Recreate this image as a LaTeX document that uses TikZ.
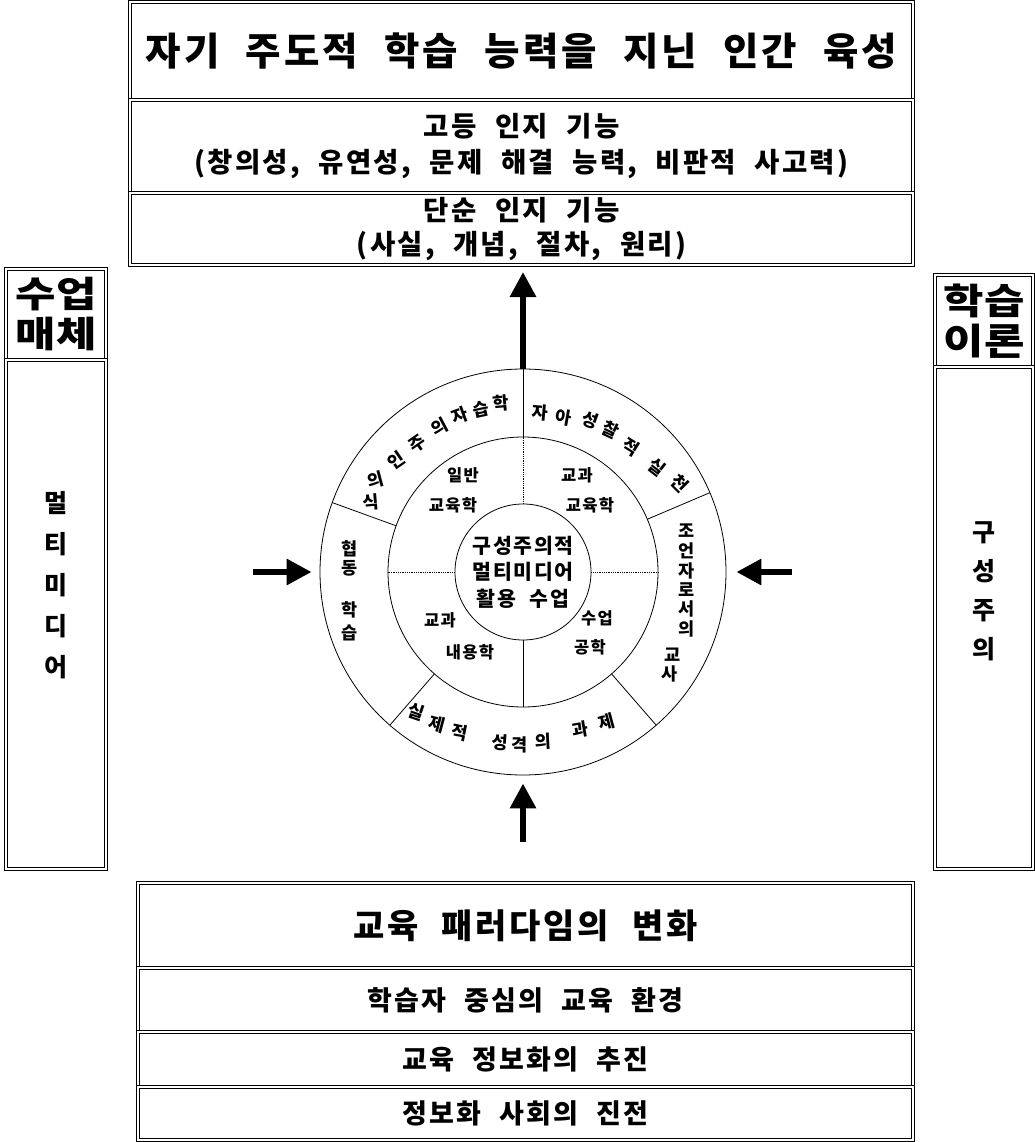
\documentclass[tikz,border=0pt]{standalone}
\usepackage{fontspec}
\setmainfont{Noto Sans CJK KR}[LetterSpace=8,WordSpace=2.2]
\newfontfamily\krwide{Noto Sans CJK KR}[FakeStretch=1.22,LetterSpace=2]
\usetikzlibrary{arrows.meta,calc}
\newcommand{\myfs}[2]{\fontsize{#1}{#2}\selectfont}
\tikzset{
  box/.style={draw, double, double distance=2pt, line width=0.9pt, inner sep=0pt, align=center},
  ring/.style={draw, line width=0.8pt, inner sep=0pt},
  divider/.style={line width=0.8pt},
  dotdiv/.style={line width=0.8pt, densely dotted},
  bigarrow/.style={line width=6pt, -{Triangle[length=25pt,width=25pt]}},
  rc/.style={font=\myfs{17.5}{17.5}\bfseries, inner sep=0pt},
  midlabel/.style={font=\myfs{16.5}{16.5}\bfseries, inner sep=0pt},
}
\begin{document}
\begin{tikzpicture}[x=1pt,y=-1pt]
\fill[white] (0,0) rectangle (1034,1142);
\useasboundingbox (0,0) rectangle (1034,1142);

% ---- top stack ----
\node[box, minimum width=783pt, minimum height=98pt, font=\myfs{38.5}{40}\bfseries] (goal) at (521.5,51) {자기 주도적 학습 능력을 지닌 인간 육성};
\node[box, minimum width=783pt, minimum height=93pt, font=\myfs{27.5}{36}\bfseries] (high) at (521.5,146.5) {고등 인지 기능\\(창의성, 유연성, 문제 해결 능력, 비판적 사고력)};
\node[box, minimum width=783pt, minimum height=72pt, font=\myfs{27.5}{34}\bfseries] (low) at (521.5,229) {단순 인지 기능\\(사실, 개념, 절차, 원리)};

% ---- left column ----
\node[box, minimum width=100pt, minimum height=91pt, font=\krwide\myfs{36}{40}\bfseries] (lhead) at (56,314.5) {수업\\매체};
\node[box, minimum width=100pt, minimum height=509pt] (lbody) at (56,614.5) {};
\node[font=\myfs{25}{41}\bfseries, align=center, inner sep=0pt] (ltext) at (56,585) {멀\\티\\미\\디\\어};

% ---- right column ----
\node[box, minimum width=98pt, minimum height=92pt, font=\krwide\myfs{36}{40}\bfseries] (rhead) at (984,321) {학습\\이론};
\node[box, minimum width=98pt, minimum height=502pt] (rbody) at (984,618) {};
\node[font=\myfs{25}{39}\bfseries, align=center, inner sep=0pt] (rtext) at (984,591) {구\\성\\주\\의};

% ---- bottom stack ----
\node[box, minimum width=775pt, minimum height=85pt, font=\myfs{34}{36}\bfseries] (para) at (525.5,925.5) {교육 패러다임의 변화};
\node[box, minimum width=775pt, minimum height=64pt, font=\myfs{27}{30}\bfseries] (learner) at (525.5,1000) {학습자 중심의 교육 환경};
\node[box, minimum width=775pt, minimum height=55pt, font=\myfs{27}{30}\bfseries] (infoed) at (525.5,1059.5) {교육 정보화의 추진};
\node[box, minimum width=775pt, minimum height=53pt, font=\myfs{27}{30}\bfseries] (infosoc) at (525.5,1113.5) {정보화 사회의 진전};

% ---- circle ----
\coordinate (ctr) at (523,572);
\node[circle, ring, minimum size=406pt] (outer) at (ctr) {};
\node[circle, ring, minimum size=270pt] (middle) at (ctr) {};
\node[circle, ring, minimum size=136pt, align=center, font=\myfs{20.5}{26.5}\bfseries] (core) at (ctr) {구성주의적\\멀티미디어\\활용 수업};

% outer ring dividers
\foreach \ang in {90,160,23,-49,-131}
  \draw[divider] ($(ctr)+(\ang:135pt)$) -- ($(ctr)+(\ang:203pt)$);
% middle ring dividers
\draw[dotdiv] (core.west) -- (middle.west);
\draw[dotdiv] (core.east) -- (middle.east);
\draw[dotdiv] (core.north) -- (middle.north);
\draw[divider] (core.south) -- (middle.south);

% middle ring labels
\node[midlabel] (m1a) at (463,475) {일반};
\node[midlabel] (m1b) at (453,505) {교육학};
\node[midlabel] (m2a) at (577,475) {교과};
\node[midlabel] (m2b) at (590,505) {교육학};
\node[midlabel] (m3a) at (440,620) {교과};
\node[midlabel] (m3b) at (470,652) {내용학};
\node[midlabel] (m4a) at (597,618) {수업};
\node[midlabel] (m4b) at (590,647) {공학};

% outer ring: top-left
\foreach \t/\a/\r/\rot [count=\i] in {학/97.5/170/5, 습/104.5/168/12, 자/112/169/20, 의/120/167/28, 주/129.5/166/35, 인/138.5/169/35, 의/148/174/15, 식/155.5/167/5}
  \node[rc, rotate=\rot] (tl\i) at ($(ctr)+(\a:\r pt)$) {\t};
% outer ring: top-right
\foreach \t/\a/\r/\rot [count=\i] in {자/84/160/-5, 아/75.5/160/-10, 성/66/166/-20, 찰/58.5/167/-25, 적/49.4/165/-32, 실/38/170/-38, 천/29.5/180/-45}
  \node[rc, rotate=\rot] (tr\i) at ($(ctr)+(\a:\r pt)$) {\t};
% outer ring: bottom
\foreach \t/\a/\r/\rot [count=\i] in {실/232.5/176/-19, 제/240.7/175/-15, 적/248.6/173/-11, 성/262.3/172/-4, 격/269/173/0, 의/276.7/171/3, 과/289.8/168/10, 제/299/172/15}
  \node[rc, rotate=\rot] (bt\i) at ($(ctr)+(\a:\r pt)$) {\t};
% outer ring: right
\foreach \t/\x/\y [count=\i] in {조/687/531, 언/687/551, 자/687/571, 로/687/590, 서/687/609, 의/687/629, 교/673/655, 사/670/674}
  \node[rc] (rt\i) at (\x,\y) {\t};
% outer ring: left
\foreach \t/\y [count=\i] in {협/549, 동/568, 학/610, 습/633}
  \node[rc] (lt\i) at (350,\y) {\t};

% ---- arrows ----
\coordinate (uptip) at (523,272);
\coordinate (downtail) at (523,842);
\coordinate (lefttail) at (253,572);
\coordinate (righttail) at (792,572);
\draw[bigarrow] (outer.north) -- (uptip);
\draw[bigarrow, shorten >=8pt] (downtail) -- (outer.south);
\draw[bigarrow, shorten >=8pt] (lefttail) -- (outer.west);
\draw[bigarrow, shorten >=10pt] (righttail) -- (outer.east);
\end{tikzpicture}
\end{document}
